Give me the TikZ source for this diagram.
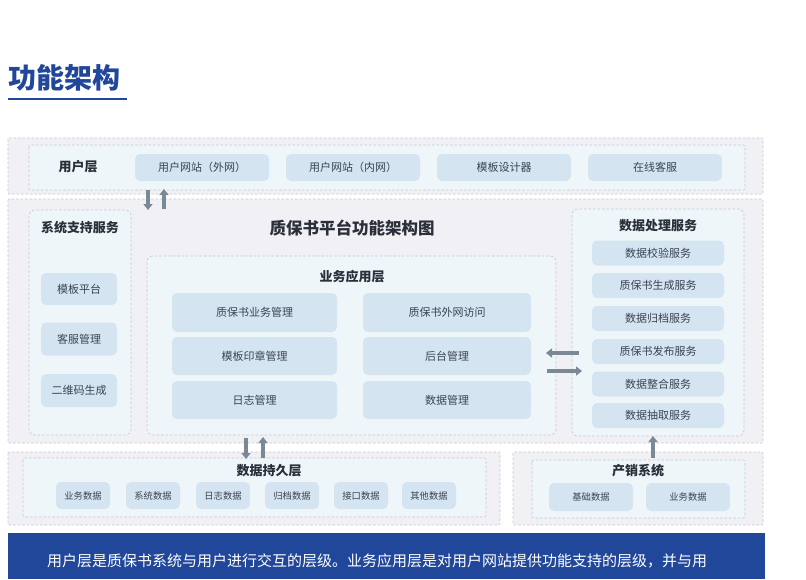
\documentclass[tikz,border=0pt]{standalone}
\usepackage{fontspec}
\setmainfont{Noto Sans CJK SC}
\usetikzlibrary{arrows.meta}
\definecolor{panelgray}{HTML}{F1F0F5}
\definecolor{panelline}{HTML}{C6C6CE}
\definecolor{innerfill}{HTML}{EEF6F9}
\definecolor{boxfill}{HTML}{D5E4F1}
\definecolor{boxtext}{HTML}{3A4454}
\definecolor{titletext}{HTML}{2A2F3A}
\definecolor{arrowgray}{HTML}{7B8896}
\definecolor{brandblue}{HTML}{21479B}
\tikzset{
  outerpanel/.style={draw=panelline, fill=panelgray, line width=0.6pt, dash pattern=on 2.5pt off 2pt, rounded corners=1pt},
  innerpanel/.style={draw=panelline, fill=innerfill, line width=0.6pt, dash pattern=on 2.5pt off 2pt, rounded corners=6pt},
  cbox/.style={fill=boxfill, rounded corners=5pt, text=boxtext, inner sep=0pt, font=\fontsize{11}{13}\selectfont},
  sbox/.style={cbox, font=\fontsize{9.3}{11}\selectfont},
  ptitle/.style={text=titletext, font=\bfseries\fontsize{13}{15}\selectfont, inner sep=0pt},
  arr/.style={draw=arrowgray, line width=3.5pt, -{Triangle[width=9pt,length=6pt]}, shorten >=-1pt}
}
\begin{document}
\begin{tikzpicture}[x=1pt,y=-1pt]
\useasboundingbox (0,0) rectangle (806,579);
% title
\node[anchor=west, text=brandblue, font=\bfseries\fontsize{28}{32}\selectfont, inner sep=0pt] (title) at (8,78) {功能架构};
\draw[brandblue, line width=1.8pt] (8,99) -- (127,99);

% user layer
\draw[outerpanel] (8,138) rectangle (763,194);
\draw[innerpanel, rounded corners=2pt] (29,145) rectangle (745,190);
\node[ptitle] (ul) at (78,167) {用户层};
\node[cbox, minimum width=134pt, minimum height=27pt] (u1) at (202,167.5) {用户网站（外网）};
\node[cbox, minimum width=134pt, minimum height=27pt] (u2) at (353,167.5) {用户网站（内网）};
\node[cbox, minimum width=134pt, minimum height=27pt] (u3) at (504,167.5) {模板设计器};
\node[cbox, minimum width=134pt, minimum height=27pt] (u4) at (655,167.5) {在线客服};

% main panel
\draw[outerpanel] (8,199) rectangle (763,443);
\node[text=titletext, font=\bfseries\fontsize{16.5}{19}\selectfont, inner sep=0pt] (maintitle) at (352,228) {质保书平台功能架构图};

% left panel
\draw[innerpanel] (29,210) rectangle (131,435);
\node[ptitle] (lt) at (80,228) {系统支持服务};
\node[cbox, minimum width=76pt, minimum height=32pt] (l1) at (79,289) {模板平台};
\node[cbox, minimum width=76pt, minimum height=33pt] (l2) at (79,339) {客服管理};
\node[cbox, minimum width=76pt, minimum height=33pt] (l3) at (79,390.5) {二维码生成};

% center panel
\draw[innerpanel] (147,256) rectangle (556,435);
\node[ptitle] (ct) at (352,277) {业务应用层};
\node[cbox, minimum width=165pt, minimum height=39pt] (c1) at (254.5,312.5) {质保书业务管理};
\node[cbox, minimum width=165pt, minimum height=38pt] (c2) at (254.5,356) {模板印章管理};
\node[cbox, minimum width=165pt, minimum height=38pt] (c3) at (254.5,400) {日志管理};
\node[cbox, minimum width=168pt, minimum height=39pt] (c4) at (447,312.5) {质保书外网访问};
\node[cbox, minimum width=168pt, minimum height=38pt] (c5) at (447,356) {后台管理};
\node[cbox, minimum width=168pt, minimum height=38pt] (c6) at (447,400) {数据管理};

% right panel
\draw[innerpanel] (572,209) rectangle (744,436);
\node[ptitle] (rt) at (658,226) {数据处理服务};
\node[cbox, minimum width=132pt, minimum height=25pt] (r1) at (658,253) {数据校验服务};
\node[cbox, minimum width=132pt, minimum height=25pt] (r2) at (658,285.5) {质保书生成服务};
\node[cbox, minimum width=132pt, minimum height=25pt] (r3) at (658,318.5) {数据归档服务};
\node[cbox, minimum width=132pt, minimum height=25pt] (r4) at (658,351.5) {质保书发布服务};
\node[cbox, minimum width=132pt, minimum height=25pt] (r5) at (658,384) {数据整合服务};
\node[cbox, minimum width=132pt, minimum height=25pt] (r6) at (658,415.5) {数据抽取服务};

% bottom left
\draw[outerpanel] (8,452) rectangle (500,525);
\draw[innerpanel, rounded corners=2pt] (23,458) rectangle (486,517);
\node[ptitle] (dt) at (269,471) {数据持久层};
\node[sbox, minimum width=54pt, minimum height=27pt] (d1) at (83,495.5) {业务数据};
\node[sbox, minimum width=54pt, minimum height=27pt] (d2) at (153,495.5) {系统数据};
\node[sbox, minimum width=54pt, minimum height=27pt] (d3) at (223,495.5) {日志数据};
\node[sbox, minimum width=54pt, minimum height=27pt] (d4) at (292,495.5) {归档数据};
\node[sbox, minimum width=54pt, minimum height=27pt] (d5) at (361,495.5) {接口数据};
\node[sbox, minimum width=54pt, minimum height=27pt] (d6) at (429,495.5) {其他数据};

% bottom right
\draw[outerpanel] (513,452) rectangle (763,525);
\draw[innerpanel, rounded corners=2pt] (532,460) rectangle (745,518);
\node[ptitle] (pt) at (638,471) {产销系统};
\node[sbox, minimum width=84pt, minimum height=28pt] (p1) at (591,497) {基础数据};
\node[sbox, minimum width=84pt, minimum height=28pt] (p2) at (688,497) {业务数据};

% connector end points
\coordinate (a1s) at (148,190); \coordinate (a1e) at (148,209);
\coordinate (a2s) at (164,209); \coordinate (a2e) at (164,190);
\coordinate (h1s) at (579,353); \coordinate (h1e) at (547,353);
\coordinate (h2s) at (547,371); \coordinate (h2e) at (581,371);
\coordinate (b1s) at (246,438); \coordinate (b1e) at (246,458);
\coordinate (b2s) at (263,458); \coordinate (b2e) at (263,438);
\coordinate (p3s) at (653,458); \coordinate (p3e) at (653,437);
\draw[arr] (a1s) -- (a1e);
\draw[arr] (a2s) -- (a2e);
\draw[arr] (h1s) -- (h1e);
\draw[arr] (h2s) -- (h2e);
\draw[arr] (b1s) -- (b1e);
\draw[arr] (b2s) -- (b2e);
\draw[arr] (p3s) -- (p3e);

% banner
\fill[brandblue] (8,533) rectangle (765,579);
\node[anchor=west, text=white, font=\fontsize{15}{17}\selectfont, inner sep=0pt] (banner) at (47,561) {用户层是质保书系统与用户进行交互的层级。业务应用层是对用户网站提供功能支持的层级，并与用};
\end{tikzpicture}
\end{document}
